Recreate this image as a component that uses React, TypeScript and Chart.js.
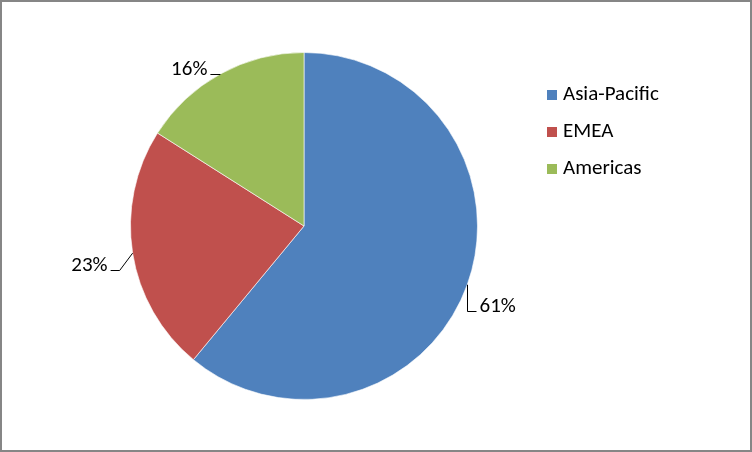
import { useEffect, useRef } from "react"
import { Chart, registerables } from "chart.js"

Chart.register(...registerables)

const regions = ["Asia-Pacific", "EMEA", "Americas"]
const shares = [61, 23, 16]
const sliceColors = ["#4F81BD", "#C0504D", "#9BBB59"]

const FONT = "21px Carlito, Lato, 'Liberation Sans', sans-serif"

// Excel-style callout labels with leader lines, plus the legend and frame
const decorations = {
  id: "decorations",
  afterDraw(chart: Chart) {
    const ctx = chart.ctx
    const meta = chart.getDatasetMeta(0)
    const total = shares.reduce((a, b) => a + b, 0)
    ctx.save()
    ctx.font = FONT
    ctx.fillStyle = "#000"
    ctx.strokeStyle = "#000"
    ctx.lineWidth = 1

    meta.data.forEach((arc: any, i: number) => {
      const { x, y, outerRadius, startAngle, endAngle } = arc.getProps(
        ["x", "y", "outerRadius", "startAngle", "endAngle"],
        true
      )
      const pct = Math.round((shares[i] / total) * 100) + "%"
      const mid = (startAngle + endAngle) / 2
      const ex = x + Math.cos(mid) * outerRadius
      const ey = y + Math.sin(mid) * outerRadius
      ctx.textBaseline = "alphabetic"
      if (ex > x) {
        // right side: vertical leader down, then short tick right
        const lx = Math.round(ex) + 0.5
        const ly = Math.round(ey + 26) + 0.5
        ctx.beginPath()
        ctx.moveTo(lx, ey)
        ctx.lineTo(lx, ly)
        ctx.lineTo(lx + 9, ly)
        ctx.stroke()
        ctx.textAlign = "left"
        ctx.fillText(pct, lx + 12, ly)
      } else if (ey > y - 100) {
        const ly = Math.round(ey + 17) + 0.5
        ctx.beginPath()
        ctx.moveTo(ex, ey)
        ctx.lineTo(ex - 13, ly)
        ctx.lineTo(ex - 22, ly)
        ctx.stroke()
        ctx.textAlign = "right"
        ctx.fillText(pct, ex - 25, ly)
      } else {
        const ly = Math.round(ey) + 0.5
        ctx.beginPath()
        ctx.moveTo(ex, ly)
        ctx.lineTo(ex - 10, ly)
        ctx.stroke()
        ctx.textAlign = "right"
        ctx.fillText(pct, ex - 13, ly)
      }
    })

    // legend
    ctx.textAlign = "left"
    ctx.textBaseline = "middle"
    regions.forEach((name, i) => {
      const cy = 95 + i * 37
      ctx.fillStyle = sliceColors[i]
      ctx.fillRect(547, cy - 5, 10, 10)
      ctx.fillStyle = "#000"
      ctx.fillText(name, 563, cy)
    })

    // chart frame
    ctx.strokeStyle = "#868686"
    ctx.lineWidth = 2
    ctx.strokeRect(1, 1, chart.width - 2, chart.height - 2)
    ctx.restore()
  },
}

export default function App() {
  const chartRef = useRef<HTMLCanvasElement>(null)
  const chartInstance = useRef<Chart | null>(null)

  useEffect(() => {
    document.body.style.margin = "0"
    if (!chartRef.current) return

    if (chartInstance.current) {
      chartInstance.current.destroy()
    }

    const ctx = chartRef.current.getContext("2d")
    if (!ctx) return

    chartInstance.current = new Chart(ctx, {
      type: "pie",
      data: {
        labels: regions,
        datasets: [
          {
            data: shares,
            backgroundColor: sliceColors,
            borderColor: "rgba(255, 255, 255, 0.6)",
            borderWidth: 1,
          },
        ],
      },
      options: {
        responsive: true,
        maintainAspectRatio: false,
        animation: false,
        layout: {
          padding: { left: 130, right: 274, top: 52, bottom: 52 },
        },
        plugins: {
          legend: { display: false },
          tooltip: { enabled: false },
        },
      },
      plugins: [decorations],
    })

    return () => {
      if (chartInstance.current) {
        chartInstance.current.destroy()
        chartInstance.current = null
      }
    }
  }, [])

  return (
    <div style={{ width: 752, height: 452, background: "#fff" }}>
      <canvas ref={chartRef}></canvas>
    </div>
  )
}
